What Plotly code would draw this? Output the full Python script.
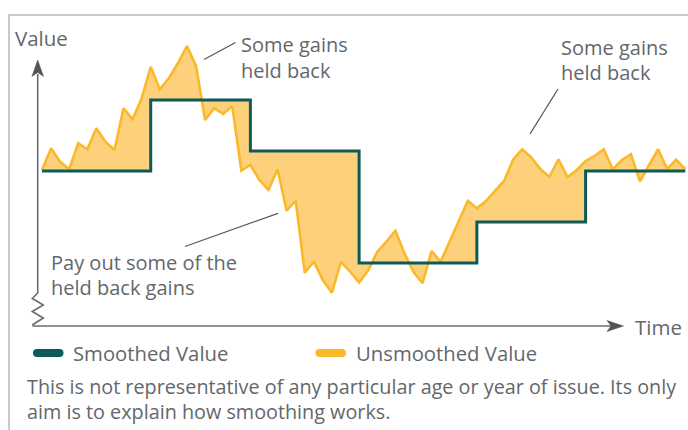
import plotly.graph_objects as go

# ---------------- data ----------------
time_index = list(range(72))
unsmoothed = [100.4, 109.1, 103.7, 100.7, 111.1, 108.7, 117.1, 111.7, 108.4, 125.1,
              120.7, 129.1, 141.7, 132.7, 137.1, 143.1, 150.0, 142.0, 120.4, 125.1,
              122.8, 126.0, 100.2, 102.4, 96.4, 92.4, 100.7, 84.1, 88.1, 59.3,
              63.7, 56.4, 51.3, 63.7, 59.7, 55.4, 60.2, 67.7, 71.7, 76.1,
              67.1, 59.7, 55.1, 68.0, 63.7, 71.7, 80.4, 88.1, 85.1, 88.0,
              92.1, 96.0, 104.5, 108.7, 105.4, 100.8, 97.6, 104.7, 97.6, 100.3,
              104.0, 106.0, 108.7, 100.7, 104.4, 106.7, 95.9, 102.4, 108.7, 100.9,
              104.5, 100.7]
smoothed_levels = [100.0, 128.4, 108.0, 63.2, 79.6, 100.0]
level_lengths = [12, 11, 12, 13, 12, 12]
smoothed = []
for lvl, n in zip(smoothed_levels, level_lengths):
    smoothed += [lvl] * n

series_names = ["Smoothed Value", "Unsmoothed Value"]
axis_labels = ["Value", "Time"]
note_gain = ["Some gains", "held back"]
note_payout = ["Pay out some of the", "held back gains"]
footnote = ["This is not representative of any particular age or year of issue. Its only",
            "aim is to explain how smoothing works."]

# ---------------- style ----------------
W, H = 688, 430
GREEN = "#0d5b56"
ORANGE = "#fbb829"
FILL = "#fdd07c"
TEXT = "#63676b"
AXIS = "#676b70"
FRAME = "#c9c9c9"
FONT = "Open Sans"


def X(px):
    return px / W


def Y(py):
    return 1 - py / H


def path(points, close=False):
    s = "M " + " L ".join(f"{X(a):.5f},{Y(b):.5f}" for a, b in points)
    return s + (" Z" if close else "")


fig = go.Figure()
# base (smoothed) for the fill
fig.add_trace(go.Scatter(x=time_index, y=smoothed, mode="lines", line=dict(width=0, shape="hv"),
                         hoverinfo="skip", showlegend=False))
fig.add_trace(go.Scatter(x=time_index, y=unsmoothed, mode="lines", name=series_names[1],
                         line=dict(color=ORANGE, width=2.6), fill="tonexty", fillcolor=FILL,
                         showlegend=False))
fig.add_trace(go.Scatter(x=time_index, y=smoothed, mode="lines", name=series_names[0],
                         line=dict(color=GREEN, width=3, shape="hv"), showlegend=False))

# axis ranges chosen so that the chart area sits where it does in the picture
x0_px, dx_px = 42.0, 9.06
fig.update_xaxes(visible=False, range=[(0 - x0_px) / dx_px, (W - x0_px) / dx_px])
fig.update_yaxes(visible=False, range=[100 + (171 - H) * 0.4, 100 + 171 * 0.4])

shapes = []
# frame (top + left)
shapes.append(dict(type="path", path=path([(9, H + 2), (9, 15), (W + 2, 15)]),
                   line=dict(color=FRAME, width=2), xref="paper", yref="paper"))
# vertical axis with zigzag break
shapes.append(dict(type="path",
                   path=path([(37.7, 74), (37.7, 293), (32.3, 298.5), (43.3, 305), (32.3, 311.5),
                              (43.3, 318), (32.3, 325)]),
                   line=dict(color=AXIS, width=1.6), xref="paper", yref="paper"))
# horizontal axis
shapes.append(dict(type="line", x0=X(32.3), y0=Y(326), x1=X(612), y1=Y(326),
                   line=dict(color=AXIS, width=1.6), xref="paper", yref="paper"))
# arrow heads
shapes.append(dict(type="path", path=path([(37.7, 60), (43.5, 76.5), (37.7, 72.5), (31.9, 76.5)], True),
                   fillcolor="#505459", line=dict(color="#505459", width=0.5), xref="paper", yref="paper"))
shapes.append(dict(type="path", path=path([(623.5, 326), (607, 320.5), (611, 326), (607, 331.5)], True),
                   fillcolor="#505459", line=dict(color="#505459", width=0.5), xref="paper", yref="paper"))
# leader lines
for (a, b), (c, d) in [((204, 59.5), (235.5, 42.5)), ((530, 134), (558, 89)), ((185, 246.5), (278, 213.3))]:
    shapes.append(dict(type="line", x0=X(a), y0=Y(b), x1=X(c), y1=Y(d),
                       line=dict(color="#55595e", width=1.3), xref="paper", yref="paper"))


def pill(x0, x1, yc, h, color):
    r = h / 2
    pts = (f"M {X(x0 + r):.5f},{Y(yc - r):.5f} L {X(x1 - r):.5f},{Y(yc - r):.5f} "
           f"Q {X(x1):.5f},{Y(yc - r):.5f} {X(x1):.5f},{Y(yc):.5f} "
           f"Q {X(x1):.5f},{Y(yc + r):.5f} {X(x1 - r):.5f},{Y(yc + r):.5f} "
           f"L {X(x0 + r):.5f},{Y(yc + r):.5f} "
           f"Q {X(x0):.5f},{Y(yc + r):.5f} {X(x0):.5f},{Y(yc):.5f} "
           f"Q {X(x0):.5f},{Y(yc - r):.5f} {X(x0 + r):.5f},{Y(yc - r):.5f} Z")
    return dict(type="path", path=pts, fillcolor=color, line=dict(width=0), xref="paper", yref="paper")


shapes.append(pill(33, 63.5, 353, 8, GREEN))
shapes.append(pill(315.5, 346, 353, 8, ORANGE))

annotations = []


def text(s, px, py, size=20):
    annotations.append(dict(text=s, x=X(px), y=Y(py), xref="paper", yref="paper", showarrow=False,
                            xanchor="left", yanchor="middle", align="left",
                            font=dict(family=FONT, size=size, color=TEXT)))


text(axis_labels[0], 13, 38, 20.5)
text(axis_labels[1], 633, 327, 20.5)
text(note_gain[0], 238.5, 45)
text(note_gain[1], 238.5, 70)
text(note_gain[0], 558.5, 47.5)
text(note_gain[1], 558.5, 72.5)
text(note_payout[0], 48.7, 262)
text(note_payout[1], 48.7, 287)
text(series_names[0], 71, 353, 20.3)
text(series_names[1], 354, 353, 20.3)
text(footnote[0], 25, 386, 19.8)
text(footnote[1], 25, 411, 19.8)

fig.update_layout(width=W, height=H, margin=dict(l=0, r=0, t=0, b=0),
                  paper_bgcolor="white", plot_bgcolor="white",
                  shapes=shapes, annotations=annotations, showlegend=False)

fig.write_html("out.html", config={"displayModeBar": False},
               post_script="document.body.style.margin='0';")
